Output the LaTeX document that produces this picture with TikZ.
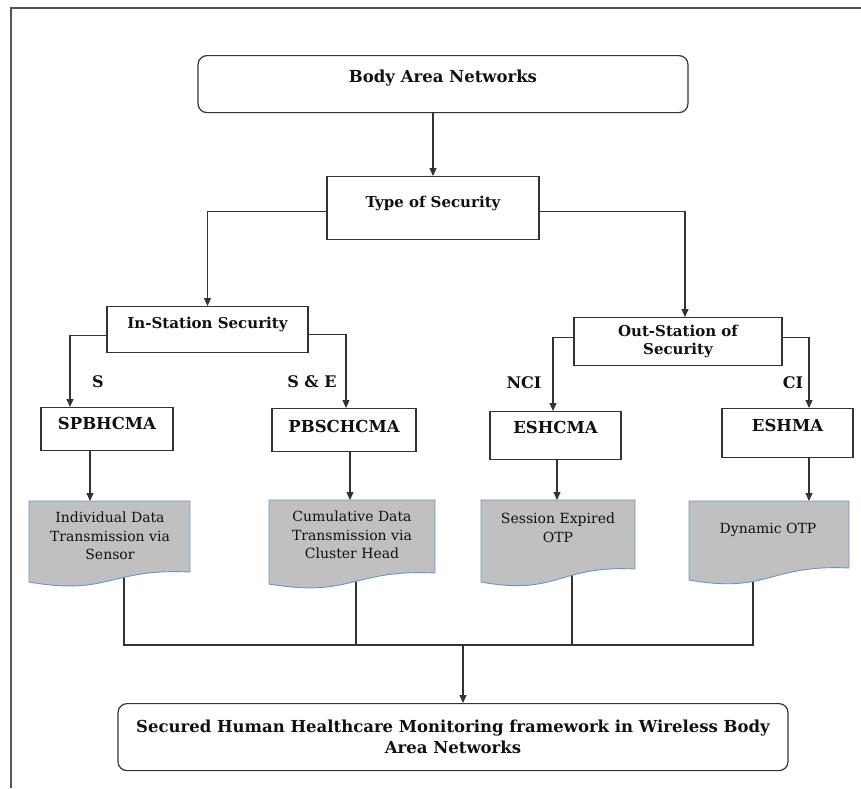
\documentclass[tikz,border=0pt]{standalone}
\usepackage{fontspec}
\setmainfont{DejaVu Serif}
\usetikzlibrary{arrows.meta,positioning,calc}
\definecolor{cInk}{HTML}{111111}
\definecolor{cEdge}{HTML}{333333}
\definecolor{cFrame}{HTML}{555555}
\definecolor{cDoc}{HTML}{C0C0C0}
\definecolor{cDocLine}{HTML}{6C93C4}

\begin{document}
\begin{tikzpicture}[
  x=1pt,y=-1pt,
  ar/.style={-{Triangle[length=8pt,width=7pt]},line width=1.1pt,color=cEdge},
  ln/.style={line width=1.1pt,color=cEdge},
  box/.style={draw=cEdge,line width=1.2pt,fill=white,inner sep=0pt,
              font=\fontsize{15}{18}\selectfont\bfseries,text=cInk,align=center},
  cbox/.style={box,font=\fontsize{16.5}{18}\selectfont\bfseries},
  rbox/.style={box,rounded corners=9pt,font=\fontsize{16.5}{21}\selectfont\bfseries},
  doc/.style={draw=cDocLine,line width=0.9pt,fill=cDoc},
  dtxt/.style={font=\fontsize{14}{18.5}\selectfont,text=cInk,align=center,
               inner xsep=0pt,inner ysep=11pt},
  lbl/.style={font=\fontsize{16}{17}\selectfont\bfseries,text=cInk},
]
\useasboundingbox (0,0) rectangle (861,788);

% ============================================================ frame
\draw[line width=1.4pt,color=cFrame] (11,788) -- (11,8) -- (861,8);

% ============================================================ top levels
\node[rbox,minimum width=490pt,text height=27pt,text depth=30pt,anchor=north]
  (ban) at (443,55) {Body Area Networks};
\node[box,minimum width=212pt,text height=31pt,text depth=32pt,anchor=north]
  (tos) at (433,176) {Type of Security};
\node[box,minimum width=201pt,text height=22pt,text depth=24pt,anchor=north]
  (ins) at (207.5,306) {In-Station Security};
\node[box,minimum width=208pt,minimum height=48pt,anchor=north]
  (oss) at (678,317) {Out-Station of\\Security};

% ============================================================ schemes
\node[cbox,minimum width=132pt,text height=22pt,text depth=21pt,anchor=north]
  (sp) at (107,407) {SPBHCMA};
\node[cbox,minimum width=144pt,text height=24pt,text depth=19pt,anchor=north]
  (pb) at (344,408) {PBSCHCMA};
\node[cbox,minimum width=131pt,text height=22pt,text depth=26pt,anchor=north]
  (esc) at (555.5,411) {ESHCMA};
\node[cbox,minimum width=131pt,text height=23pt,text depth=26pt,anchor=north]
  (esh) at (787.5,408) {ESHMA};

\node[lbl] (lS)   at (98,382)  {S};
\node[lbl] (lSE)  at (312,382) {S \& E};
\node[lbl] (lNCI) at (524,383) {NCI};
\node[lbl] (lCI)  at (793,383) {CI};

% ============================================================ links
\draw[ar] (ban.south -| tos.north) -- (tos.north);
\draw[ar] ([yshift=-3.5pt]tos.west) -| (ins.north);
\draw[ar] ([yshift=-3.5pt]tos.east) -| ([xshift=7pt]oss.north);
\draw[ar] ([yshift=-6pt]ins.west) -| ([xshift=-37pt]sp.north);
\draw[ar] ([yshift=-5pt]ins.east) -| ([xshift=2pt]pb.north);
\draw[ar] ([yshift=4pt]oss.west) -| ([xshift=-2.5pt]esc.north);
\draw[ar] ([yshift=4pt]oss.east) -| ([xshift=21.5pt]esh.north);

% ============================================================ outputs
\coordinate (w1) at (124,575);
\coordinate (w2) at (356,578);
\coordinate (w3) at (572,574);
\coordinate (w4) at (753,572);
\coordinate (bus) at (463,645);
\draw[ln] (w1) |- (w4 |- bus) -- (w4);
\draw[ln] (w2) -- (w2 |- bus);
\draw[ln] (w3) -- (w3 |- bus);

% documents: left x / right x / top / left foot / right foot
\foreach \xl/\xr/\yt/\yl/\yr in {29/190/501/582/572, 269/435/500/584/573,
                                 481/635/500/582/569, 689/849/501/580/568}
  \draw[doc] (\xl,\yt) -- (\xr,\yt) -- (\xr,\yr)
    .. controls ({(\xl+\xr)/2},{\yr-4}) and ({(\xl+\xr)/2},{\yl+14}) .. (\xl,\yl)
    -- cycle;

\node[dtxt,anchor=north] (d1) at (110,501)
  {Individual Data\\Transmission via\\Sensor};
\node[dtxt,anchor=north] (d2) at (352,500)
  {Cumulative Data\\Transmission via\\Cluster Head};
\node[dtxt,anchor=north,inner ysep=13pt] (d3) at (558,500) {Session Expired\\OTP};
\node[dtxt,anchor=north,inner ysep=22pt] (d4) at (768,501) {Dynamic OTP};

\draw[ar] ([xshift=-17pt]sp.south) -- ([xshift=-17pt]sp.south |- d1.north);
\draw[ar] ([xshift=6pt]pb.south) -- ([xshift=6pt]pb.south |- d2.north);
\draw[ar] ([xshift=1.5pt]esc.south) -- ([xshift=1.5pt]esc.south |- d3.north);
\draw[ar] ([xshift=21.5pt]esh.south) -- ([xshift=21.5pt]esh.south |- d4.north);

% ============================================================ result
\node[rbox,minimum width=670pt,minimum height=67pt,anchor=north]
  (fin) at (453,703)
  {Secured Human Healthcare Monitoring framework in Wireless Body\\Area Networks};
\draw[ar] (bus) -- (bus |- fin.north);

\end{tikzpicture}
\end{document}
